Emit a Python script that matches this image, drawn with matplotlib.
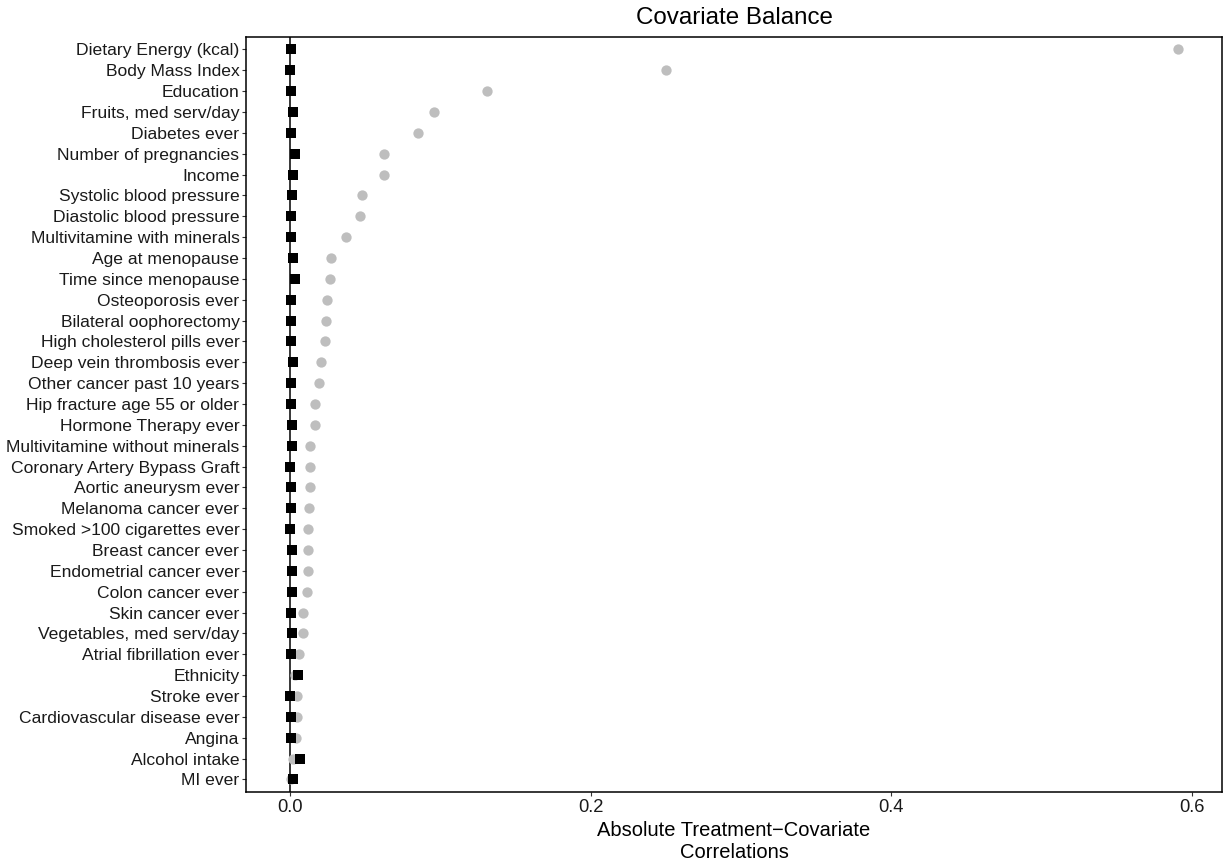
import matplotlib.pyplot as plt
import numpy as np

plt.rcParams['font.family'] = ['Liberation Sans', 'DejaVu Sans']

covariates = ['Dietary Energy (kcal)', 'Body Mass Index', 'Education',
              'Fruits, med serv/day', 'Diabetes ever', 'Number of pregnancies',
              'Income', 'Systolic blood pressure', 'Diastolic blood pressure',
              'Multivitamine with minerals', 'Age at menopause',
              'Time since menopause', 'Osteoporosis ever',
              'Bilateral oophorectomy', 'High cholesterol pills ever',
              'Deep vein thrombosis ever', 'Other cancer past 10 years',
              'Hip fracture age 55 or older', 'Hormone Therapy ever',
              'Multivitamine without minerals', 'Coronary Artery Bypass Graft',
              'Aortic aneurysm ever', 'Melanoma cancer ever',
              'Smoked >100 cigarettes ever', 'Breast cancer ever',
              'Endometrial cancer ever', 'Colon cancer ever', 'Skin cancer ever',
              'Vegetables, med serv/day', 'Atrial fibrillation ever', 'Ethnicity',
              'Stroke ever', 'Cardiovascular disease ever', 'Angina',
              'Alcohol intake', 'MI ever']

# unadjusted (grey circles) and adjusted (black squares) correlations
unadjusted = [0.5905, 0.2498, 0.1309, 0.0955, 0.0848, 0.0620, 0.0620, 0.0478,
              0.0465, 0.0368, 0.0272, 0.0264, 0.0246, 0.0235, 0.0228, 0.0206,
              0.0188, 0.0166, 0.0162, 0.0133, 0.0131, 0.0128, 0.0124, 0.0120,
              0.0120, 0.0115, 0.0111, 0.0086, 0.0086, 0.0055, 0.0029, 0.0047,
              0.0042, 0.0040, 0.0020, 0.0003]

adjusted = [0.0005, 0.0000, 0.0005, 0.0020, 0.0005, 0.0029, 0.0020, 0.0013,
            0.0005, 0.0005, 0.0020, 0.0029, 0.0005, 0.0005, 0.0005, 0.0020,
            0.0005, 0.0005, 0.0013, 0.0013, 0.0000, 0.0005, 0.0005, 0.0000,
            0.0013, 0.0013, 0.0013, 0.0005, 0.0013, 0.0005, 0.0053, 0.0000,
            0.0005, 0.0005, 0.0066, 0.0020]

x_ticks = [0.0, 0.2, 0.4, 0.6]

fig = plt.figure(figsize=(12.25, 8.68), dpi=100)
ax = fig.add_axes([0.2008, 0.0876, 0.7968, 0.8698])

n = len(covariates)
y = np.arange(n)[::-1]

ax.axvline(0, color='black', linewidth=1.1, zorder=1)
ax.scatter(unadjusted, y, s=55, marker='o', color='#BEBEBE', linewidths=0, zorder=2)
ax.scatter(adjusted, y, s=55, marker='s', color='black', linewidths=0, zorder=3)

span = max(unadjusted)
ax.set_xlim(-0.05 * span, span * 1.05)
ax.set_ylim(-0.6, n - 1 + 0.6)

ax.set_yticks(y)
ax.set_yticklabels(covariates, fontsize=12.6)
ax.set_xticks(x_ticks)
ax.set_xticklabels(['%.1f' % t for t in x_ticks], fontsize=13.2)
ax.tick_params(axis='both', length=2.75, width=0.8, color='#333333', pad=2,
               labelcolor='#1a1a1a')

for s in ax.spines.values():
    s.set_linewidth(1.1)
    s.set_color('black')

ax.set_xlabel('Absolute Treatment\u2212Covariate\nCorrelations', fontsize=14.5,
              labelpad=4, linespacing=1.2)
ax.set_title('Covariate Balance', fontsize=17.4, pad=9)

fig.savefig('out.png', dpi=100)
